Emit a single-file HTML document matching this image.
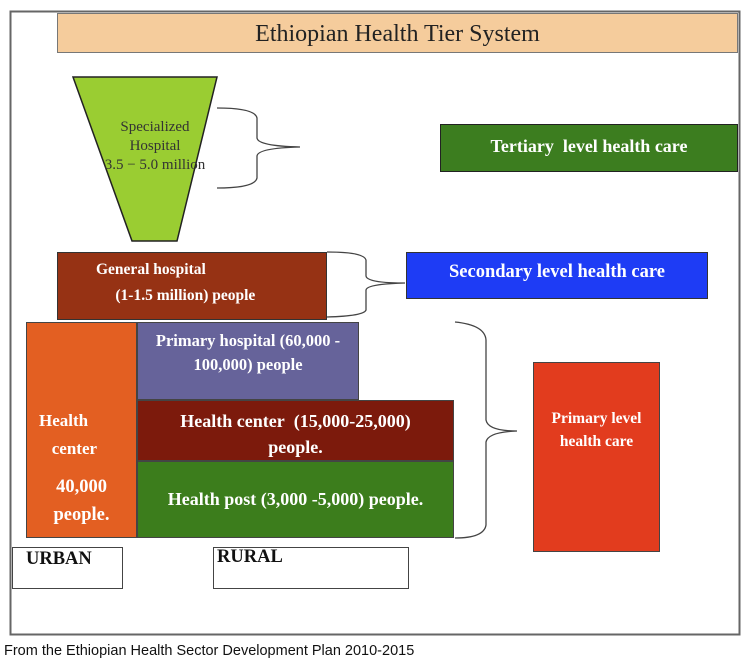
<!DOCTYPE html>
<html><head><meta charset="utf-8"><style>
body{margin:0;background:#fff;}
.w{position:relative;width:749px;height:664px;overflow:hidden;font-family:"Liberation Serif",serif;}
.b{position:absolute;box-sizing:border-box;color:#fff;font-weight:bold;text-align:center;white-space:nowrap;}
</style></head><body><div class="w">
<svg width="749" height="664" style="position:absolute;left:0;top:0">
<rect x="10.5" y="11.5" width="729" height="623" fill="none" stroke="#666" stroke-width="2"/>
<polygon points="73,77 217,77 177,241 132,241" fill="#9acd32" stroke="#222" stroke-width="1.5"/>
<g fill="none" stroke="#444" stroke-width="1.3">
<path d="M217,108 Q255,108 257,118 L257,138 Q258,146 300,147 Q258,148 257,156 L257,178 Q255,188 217,188"/>
<path d="M327,252 Q364,252 366,260 L366,276 Q367,283 405,283 Q367,284 366,290 L366,310 Q364,316 327,317"/>
<path d="M455,322 Q485,325 486,340 L486,420 Q488,431 517,431 Q488,432 486,442 L486,525 Q484,538 455,538"/>
</g>
</svg>
<div class="b" style="left:57px;top:13px;width:681px;height:40px;background:#f5cc9c;border:1px solid #777;color:#222;font-weight:normal;font-size:24px;line-height:40px;">Ethiopian Health Tier System</div>
<div class="b" style="left:100px;top:118px;width:110px;color:#333;font-weight:normal;font-size:15px;line-height:19px;">Specialized<br>Hospital<br>3.5 − 5.0 million</div>
<div class="b" style="left:440px;top:124px;width:298px;height:48px;background:#3c7d1f;border:1px solid #222;font-size:18px;line-height:42px;">Tertiary&nbsp; level health care</div>
<div class="b" style="left:57px;top:252px;width:270px;height:68px;background:#963214;border:1px solid #333;font-size:15.5px;line-height:26px;text-align:left;padding:4px 0 0 38px;">General hospital<br>&nbsp;&nbsp;&nbsp;&nbsp;&nbsp;(1-1.5 million) people</div>
<div class="b" style="left:406px;top:252px;width:302px;height:47px;background:#1e3cf5;border:1px solid #333;font-size:18.5px;line-height:38px;">Secondary level health care</div>
<div class="b" style="left:26px;top:322px;width:111px;height:216px;background:#e35f22;border:1px solid #444;font-size:17px;line-height:28px;text-align:left;padding:84px 0 0 12px;">Health<br>&nbsp;&nbsp;&nbsp;center<br><span style="display:block;margin-top:10px;text-align:center;margin-left:-12px;line-height:28px;font-size:18.5px">40,000<br>people.</span></div>
<div class="b" style="left:137px;top:322px;width:222px;height:78px;background:#66639a;border:1px solid #444;font-size:16.5px;line-height:24px;padding-top:6px;">Primary hospital (60,000 -<br>100,000) people</div>
<div class="b" style="left:137px;top:400px;width:317px;height:61px;background:#7c1a0c;border:1px solid #444;font-size:18px;line-height:26px;padding-top:7px;">Health center&nbsp; (15,000-25,000)<br>people.</div>
<div class="b" style="left:137px;top:461px;width:317px;height:77px;background:#3c7d1c;border:1px solid #444;font-size:18px;line-height:75px;">Health post (3,000 -5,000) people.</div>
<div class="b" style="left:533px;top:362px;width:127px;height:190px;background:#e23c1e;border:1px solid #444;font-size:15.5px;line-height:23px;padding-top:44px;">Primary level<br>health care</div>
<div class="b" style="left:12px;top:547px;width:111px;height:42px;border:1px solid #444;color:#111;font-size:18.5px;text-align:left;padding:1px 0 0 13px;">URBAN</div>
<div class="b" style="left:213px;top:547px;width:196px;height:42px;border:1px solid #444;color:#111;font-size:18.5px;text-align:left;padding:0 0 0 3px;line-height:18px;">RURAL</div>
<div style="position:absolute;left:4px;top:643px;font-family:'Liberation Sans',sans-serif;font-size:14.5px;color:#111;white-space:nowrap;">From the Ethiopian Health Sector Development Plan 2010-2015</div>
</div></body></html>
